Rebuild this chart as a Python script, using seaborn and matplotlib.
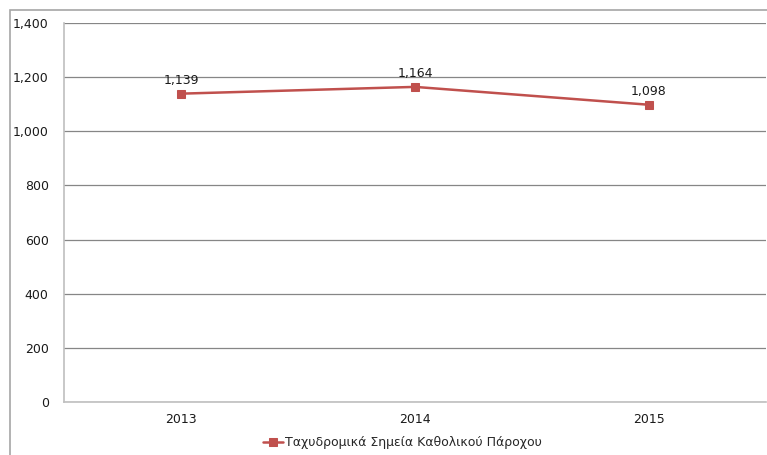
import matplotlib
matplotlib.use("Agg")
import matplotlib.pyplot as plt
import seaborn as sns
import pandas as pd
from matplotlib.patches import Rectangle
from matplotlib.ticker import FuncFormatter

years = ["2013", "2014", "2015"]
points = [1139, 1164, 1098]
series_name = "Ταχυδρομικά Σημεία Καθολικού Πάροχου"
y_ticks = [0, 200, 400, 600, 800, 1000, 1200, 1400]

df = pd.DataFrame({"pos": range(len(years)), "value": points, "series": series_name})

sns.set_style("white")
plt.rcParams["font.family"] = ["DejaVu Sans"]

fig = plt.figure(figsize=(7.67, 4.55), dpi=100)
ax = fig.add_axes([64 / 767, 1 - 402 / 455, 702 / 767, (402 - 23) / 455])

# outer chart border (cropped at right and bottom)
fig.patches.append(Rectangle((10 / 767, -0.5), 2.0, 1.5 - 10 / 455,
                             transform=fig.transFigure, fill=False,
                             edgecolor="#a6a6a6", linewidth=1.2))

red = "#c0504d"
sns.lineplot(data=df, x="pos", y="value", hue="series", palette=[red],
             marker="s", markersize=6, markeredgecolor=red, linewidth=1.8, ax=ax)

for i, v in enumerate(points):
    ax.annotate(f"{v:,}", (i, v), xytext=(0, 5), textcoords="offset points",
                ha="center", va="bottom", fontsize=9, color="#1a1a1a")

ax.set_xlim(-0.5, len(years) - 0.5)
ax.set_ylim(0, 1400)
ax.set_yticks(y_ticks)
ax.yaxis.set_major_formatter(FuncFormatter(lambda v, p: f"{int(v):,}"))
ax.set_xticks(range(len(years)))
ax.set_xticklabels(years)
ax.tick_params(axis="both", length=0, labelsize=9, colors="#1a1a1a")
ax.tick_params(axis="y", pad=11)
ax.tick_params(axis="x", pad=8)
ax.set_xlabel("")
ax.set_ylabel("")

ax.grid(axis="y", color="#868686", linewidth=0.9)
ax.set_axisbelow(True)
for side in ["top", "right"]:
    ax.spines[side].set_visible(False)
ax.spines["left"].set_color("#bfbfbf")
ax.spines["bottom"].set_color("#bfbfbf")
ax.spines["left"].set_linewidth(1.2)
ax.spines["bottom"].set_linewidth(1.2)

ax.get_legend().remove()
handles, labels = ax.get_legend_handles_labels()
fig.legend(handles, labels, loc="center", bbox_to_anchor=(0.525, 0.027),
           frameon=False, fontsize=9, handlelength=1.6, handletextpad=0.2)

fig.savefig("out.png", dpi=100)
